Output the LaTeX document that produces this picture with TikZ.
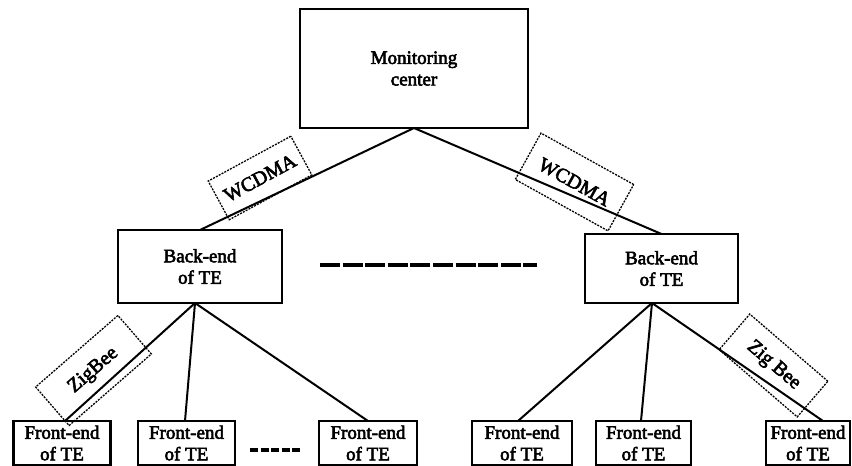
\documentclass[tikz,border=0pt]{standalone}
\usepackage{fontspec}
\setmainfont{Liberation Serif}
\newfontfamily\heavyserif{Liberation Serif}[FakeBold=3]
\begin{document}
\begin{tikzpicture}[x=1pt,y=-1pt,
  box/.style={draw,line width=2.8pt,outer sep=0pt,inner sep=0pt,align=center,
    font=\heavyserif\fontsize{19}{21.5}\selectfont},
  front/.style={box,minimum height=44pt},
  link/.style={line width=2pt},
  tag/.style={draw,line width=1.3pt,dash pattern=on 2pt off 1.2pt,outer sep=0pt,
    inner sep=0pt,font=\heavyserif\fontsize{20}{21}\selectfont},
  gapline/.style={line width=4pt,dash pattern=on 20pt off 2.6pt}
]
\useasboundingbox (0,0) rectangle (852,466);

% top level
\node[box,minimum width=228pt,minimum height=119pt] (mc) at (414,68.5) {Monitoring\\center};

% terminal back ends
\node[box,minimum width=164pt,minimum height=73pt] (bl) at (200,266.5) {Back-end\\of TE};
\node[box,minimum width=153pt,minimum height=69pt] (br) at (661.5,268.5) {Back-end\\of TE};

% terminal front ends
\node[front,minimum width=97pt]  (f1) at (62,443)    {Front-end\\of TE};
\node[front,minimum width=97pt]  (f2) at (186.5,443) {Front-end\\of TE};
\node[front,minimum width=98pt]  (f3) at (368,443)   {Front-end\\of TE};
\node[front,minimum width=100pt] (f4) at (522,443)   {Front-end\\of TE};
\node[front,minimum width=95pt]  (f5) at (643.5,443) {Front-end\\of TE};
\node[front,minimum width=84pt]  (f6) at (808,443)   {Front-end\\of TE};

% links
\draw[link] (mc.south) -- (bl.north);
\draw[link] (mc.south) -- (br.north);
\draw[link] ([xshift=-5pt]bl.south) -- ([xshift=3pt]f1.north);
\draw[link] ([xshift=-5pt]bl.south) -- ([xshift=-1.5pt]f2.north);
\draw[link] ([xshift=-5pt]bl.south) -- (f3.north);
\draw[link] ([xshift=-9.5pt]br.south) -- ([xshift=-4pt]f4.north);
\draw[link] ([xshift=-9.5pt]br.south) -- ([xshift=-2.5pt]f5.north);
\draw[link] ([xshift=-9.5pt]br.south) -- ([xshift=15pt]f6.north);

% elided members
\coordinate (m1) at (320,265);
\coordinate (m2) at (537,265);
\draw[gapline] (m1) -- (m2);
\coordinate (n1) at (250,450);
\coordinate (n2) at (302,450);
\draw[line width=4pt,dash pattern=on 8pt off 2.5pt] (n1) -- (n2);

% link technology tags
\node[tag,rotate=28.5,minimum width=94pt,minimum height=44pt] (wl) at (260,178) {WCDMA};
\node[tag,rotate=-29,minimum width=106pt,minimum height=53pt] (wr) at (574.5,182) {WCDMA};
\node[tag,rotate=41,minimum width=109pt,minimum height=51pt] (zl) at (93.5,370.5) {ZigBee};
\node[tag,rotate=-40.7,minimum width=103pt,minimum height=47pt] (zr) at (773.5,365.5) {Zig Bee};
\end{tikzpicture}
\end{document}
